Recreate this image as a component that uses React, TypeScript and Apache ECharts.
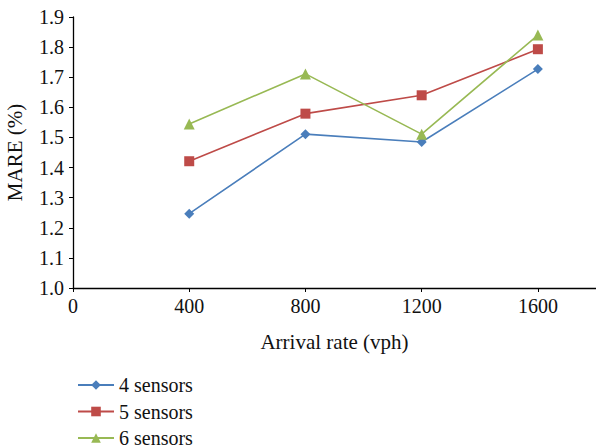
import React, { useEffect, useRef } from "react";
import * as echarts from "echarts";

const arrivalRates = [400, 800, 1200, 1600];
const sensors4 = [1.247, 1.511, 1.485, 1.727];
const sensors5 = [1.421, 1.579, 1.64, 1.793];
const sensors6 = [1.545, 1.711, 1.511, 1.84];
const seriesNames = ["4 sensors", "5 sensors", "6 sensors"];
const colors = ["#4A7EBB", "#BE4B48", "#98B954"];
const symbols = ["diamond", "rect", "triangle"];
const symbolSizes = [10, 10, 11];

const FONT = "'Liberation Serif', 'DejaVu Serif', serif";
const FS = 20;

export default function App() {
  const ref = useRef<HTMLDivElement>(null);
  useEffect(() => {
    if (!ref.current) return;
    const chart = echarts.init(ref.current, undefined, { renderer: "svg" });
    const data = [sensors4, sensors5, sensors6];
    chart.setOption({
      animation: false,
      textStyle: { fontFamily: FONT },
      grid: {
        left: 73,
        right: 0,
        top: 17,
        bottom: 160,
        containLabel: false,
        outerBoundsMode: "none",
      },
      legend: seriesNames.map((name, i) => ({
        orient: "vertical",
        left: 72,
        top: 370 + i * 26.5,
        itemWidth: 36,
        itemHeight: 12,
        data: [name],
        textStyle: { fontFamily: FONT, fontSize: FS, lineHeight: 20, color: "#111" },
      })),
      xAxis: {
        type: "value",
        min: 0,
        max: 1800,
        interval: 400,
        name: "Arrival rate (vph)",
        nameLocation: "middle",
        nameGap: 43,
        nameTextStyle: { fontFamily: FONT, fontSize: 21, color: "#111" },
        axisLine: { show: true, onZero: false, lineStyle: { color: "#000", width: 1.3 } },
        axisTick: { show: true, length: 4, lineStyle: { color: "#000" } },
        axisLabel: {
          fontFamily: FONT,
          fontSize: FS,
          color: "#111",
          margin: 8,
          showMaxLabel: false,
          formatter: (v: number) => String(v),
        },
        splitLine: { show: false },
      },
      yAxis: {
        type: "value",
        min: 1.0,
        max: 1.9,
        interval: 0.1,
        name: "MARE (%)",
        nameLocation: "middle",
        nameGap: 48,
        nameTextStyle: { fontFamily: FONT, fontSize: 21, color: "#111" },
        axisLine: { show: true, lineStyle: { color: "#000", width: 1.3 } },
        axisTick: { show: true, length: 4, lineStyle: { color: "#000" } },
        axisLabel: {
          fontFamily: FONT,
          fontSize: FS,
          color: "#111",
          margin: 9,
          formatter: (v: number) => v.toFixed(1),
        },
        splitLine: { show: false },
      },
      series: seriesNames.map((name, i) => ({
        name,
        type: "line",
        data: arrivalRates.map((x, j) => [x, data[i][j]]),
        symbol: symbols[i],
        symbolSize: symbolSizes[i],
        showSymbol: true,
        itemStyle: { color: colors[i] },
        lineStyle: { color: colors[i], width: 1.6 },
      })),
    });
    return () => chart.dispose();
  }, []);
  return <div ref={ref} style={{ width: 596, height: 448, position: "absolute", left: 0, top: 0 }} />;
}
